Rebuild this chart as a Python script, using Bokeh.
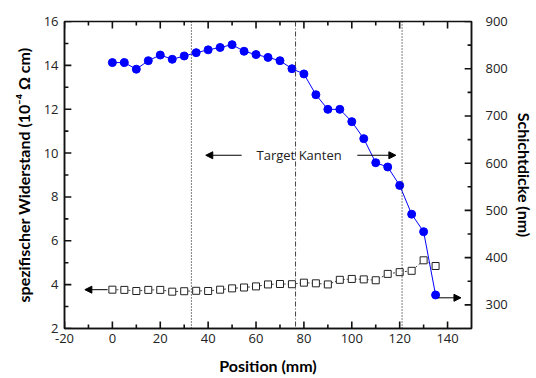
from bokeh.plotting import figure
from bokeh.models import (Range1d, LinearAxis, FixedTicker, Span, Arrow,
                          NormalHead, Label, CustomJSTickFormatter)
from bokeh.embed import file_html
from bokeh.resources import INLINE

# Position along the substrate (mm)
position = [0, 5, 10, 15, 20, 25, 30, 35, 40, 45, 50, 55, 60, 65,
            70, 75, 80, 85, 90, 95, 100, 105, 110, 115, 120, 125, 130, 135]

# Specific resistivity (10^-4 Ohm cm), left axis
resistivity = [3.77, 3.76, 3.71, 3.76, 3.76, 3.68, 3.70, 3.72, 3.71, 3.77,
               3.83, 3.87, 3.92, 4.01, 4.03, 4.02, 4.09, 4.06, 4.01, 4.22,
               4.26, 4.24, 4.20, 4.49, 4.57, 4.63, 5.11, 4.85]

# Layer thickness (nm), right axis
thickness = [813, 813, 799, 817, 829, 820, 827, 834, 840, 845,
             851, 837, 830, 824, 817, 800, 789, 745, 714, 714,
             688, 652, 601, 592, 553, 492, 455, 321]

# Target edges (mm)
edge_left, edge_center, edge_right = 33, 76.5, 121

# Tick positions
x_major = [-20, 0, 20, 40, 60, 80, 100, 120, 140]
x_minor = [-10, 10, 30, 50, 70, 90, 110, 130]
res_major = [2, 4, 6, 8, 10, 12, 14, 16]
res_minor = [3, 5, 7, 9, 11, 13, 15]
thick_major = [300, 400, 500, 600, 700, 800, 900]
thick_minor = [350, 450, 550, 650, 750, 850]

X_MIN, X_MAX = -20, 150
RES_MIN, RES_MAX = 2, 16
THICK_MIN, THICK_MAX = 250, 900

WIDTH, HEIGHT = 536, 378
BORDER_L, BORDER_R, BORDER_T, BORDER_B = 64, 56, 21, 50
FRAME_W = WIDTH - BORDER_L - BORDER_R
FRAME_H = HEIGHT - BORDER_T - BORDER_B

TICK_FONT = "Open Sans"
LABEL_FONT = "Lato"
AXIS_COLOR = "#111111"

p = figure(width=WIDTH, height=HEIGHT, output_backend="svg", toolbar_location=None,
           x_range=Range1d(X_MIN, X_MAX), y_range=Range1d(RES_MIN, RES_MAX),
           min_border_left=BORDER_L, min_border_right=BORDER_R,
           min_border_top=BORDER_T, min_border_bottom=BORDER_B)
p.extra_y_ranges = {"thick": Range1d(THICK_MIN, THICK_MAX)}
p.xgrid.visible = False
p.ygrid.visible = False
p.outline_line_color = AXIS_COLOR
p.outline_line_width = 1.5
p.background_fill_color = "white"
p.border_fill_color = "white"

plain_numbers = CustomJSTickFormatter(code="return tick.toString();")


def style_axis(ax, ticks):
    ax.ticker = FixedTicker(ticks=ticks)
    ax.axis_line_color = AXIS_COLOR
    ax.axis_line_width = 1.5
    ax.major_tick_in = 0
    ax.major_tick_out = 0
    ax.minor_tick_in = 0
    ax.minor_tick_out = 0
    ax.formatter = plain_numbers
    ax.major_label_text_font = TICK_FONT
    ax.major_label_text_font_size = "13px"
    ax.major_label_text_color = "#222222"
    ax.axis_label_text_font = LABEL_FONT
    ax.axis_label_text_font_style = "bold"
    ax.axis_label_text_font_size = "16px"
    ax.axis_label_text_color = "black"


# bottom axis
xb = p.xaxis[0]
xb.axis_label = "Position (mm)"
style_axis(xb, x_major)
xb.major_label_standoff = 5
xb.axis_label_standoff = 10

# left axis
yl = p.yaxis[0]
yl.axis_label = "spezifischer Widerstand (10⁻⁴ Ω cm)"
style_axis(yl, res_major)
yl.major_label_standoff = 6
yl.axis_label_standoff = 8

# right axis (thickness)
yr = LinearAxis(y_range_name="thick", axis_label="Schichtdicke (nm)")
style_axis(yr, thick_major)
yr.major_label_standoff = 14
yr.axis_label_standoff = 4
p.add_layout(yr, "right")

# inward-pointing tick marks on all four sides, lengths in screen pixels
dx = (X_MAX - X_MIN) / FRAME_W
dy_res = (RES_MAX - RES_MIN) / FRAME_H
TICK_W = 1.6


def hticks(xs, length):
    n = len(xs)
    p.segment(xs, [RES_MIN] * n, xs, [RES_MIN + length * dy_res] * n,
              line_color=AXIS_COLOR, line_width=TICK_W)
    p.segment(xs, [RES_MAX] * n, xs, [RES_MAX - length * dy_res] * n,
              line_color=AXIS_COLOR, line_width=TICK_W)


hticks(x_major, 7)
hticks(x_minor, 4)
for ys, L in [(res_major, 7), (res_minor, 4)]:
    n = len(ys)
    p.segment([X_MIN] * n, ys, [X_MIN + L * dx] * n, ys,
              line_color=AXIS_COLOR, line_width=TICK_W)
for ys, L in [(thick_major, 7), (thick_minor, 4)]:
    n = len(ys)
    p.segment([X_MAX] * n, ys, [X_MAX - L * dx] * n, ys,
              line_color=AXIS_COLOR, line_width=TICK_W, y_range_name="thick")

# target edge markers
for loc, dash, col in [(edge_left, "1 2", "black"),
                       (edge_center, "5 2 1 2", "#444444"),
                       (edge_right, "1 2", "black")]:
    p.add_layout(Span(location=loc, dimension="height", line_color=col,
                      line_dash=dash, line_width=1))

# resistivity series
p.line(position, resistivity, line_color="#444444", line_dash="2 2", line_width=1)
p.scatter(position, resistivity, marker="square", size=7, fill_color="white",
          line_color="#222222", line_width=1)

# thickness series
p.line(position, thickness, y_range_name="thick", line_color="#0000ff", line_width=1)
p.scatter(position, thickness, y_range_name="thick", marker="circle", size=8,
          fill_color="#0000ff", line_color="#0000ff")


# arrows pointing to the matching axis
def arrow(x0, y0, x1, y1, rng="default"):
    p.add_layout(Arrow(end=NormalHead(size=7, fill_color="black", line_color="black"),
                       x_start=x0, y_start=y0, x_end=x1, y_end=y1,
                       line_color="black", line_width=1, y_range_name=rng))


arrow(position[0] - 2, resistivity[0], -11.5, resistivity[0])
arrow(position[-1] + 1, thickness[-1] - 6, 145.6, thickness[-1] - 6, "thick")

# "Target Kanten" annotation
arrow(54, 9.9, 39, 9.9)
arrow(102.3, 9.9, 118.4, 9.9)
p.add_layout(Label(x=78, y=9.9, text="Target Kanten", text_align="center",
                   text_baseline="middle", text_font=TICK_FONT,
                   text_font_size="13px", text_color="#222222"))

open("out.html", "w").write(file_html(p, INLINE))
